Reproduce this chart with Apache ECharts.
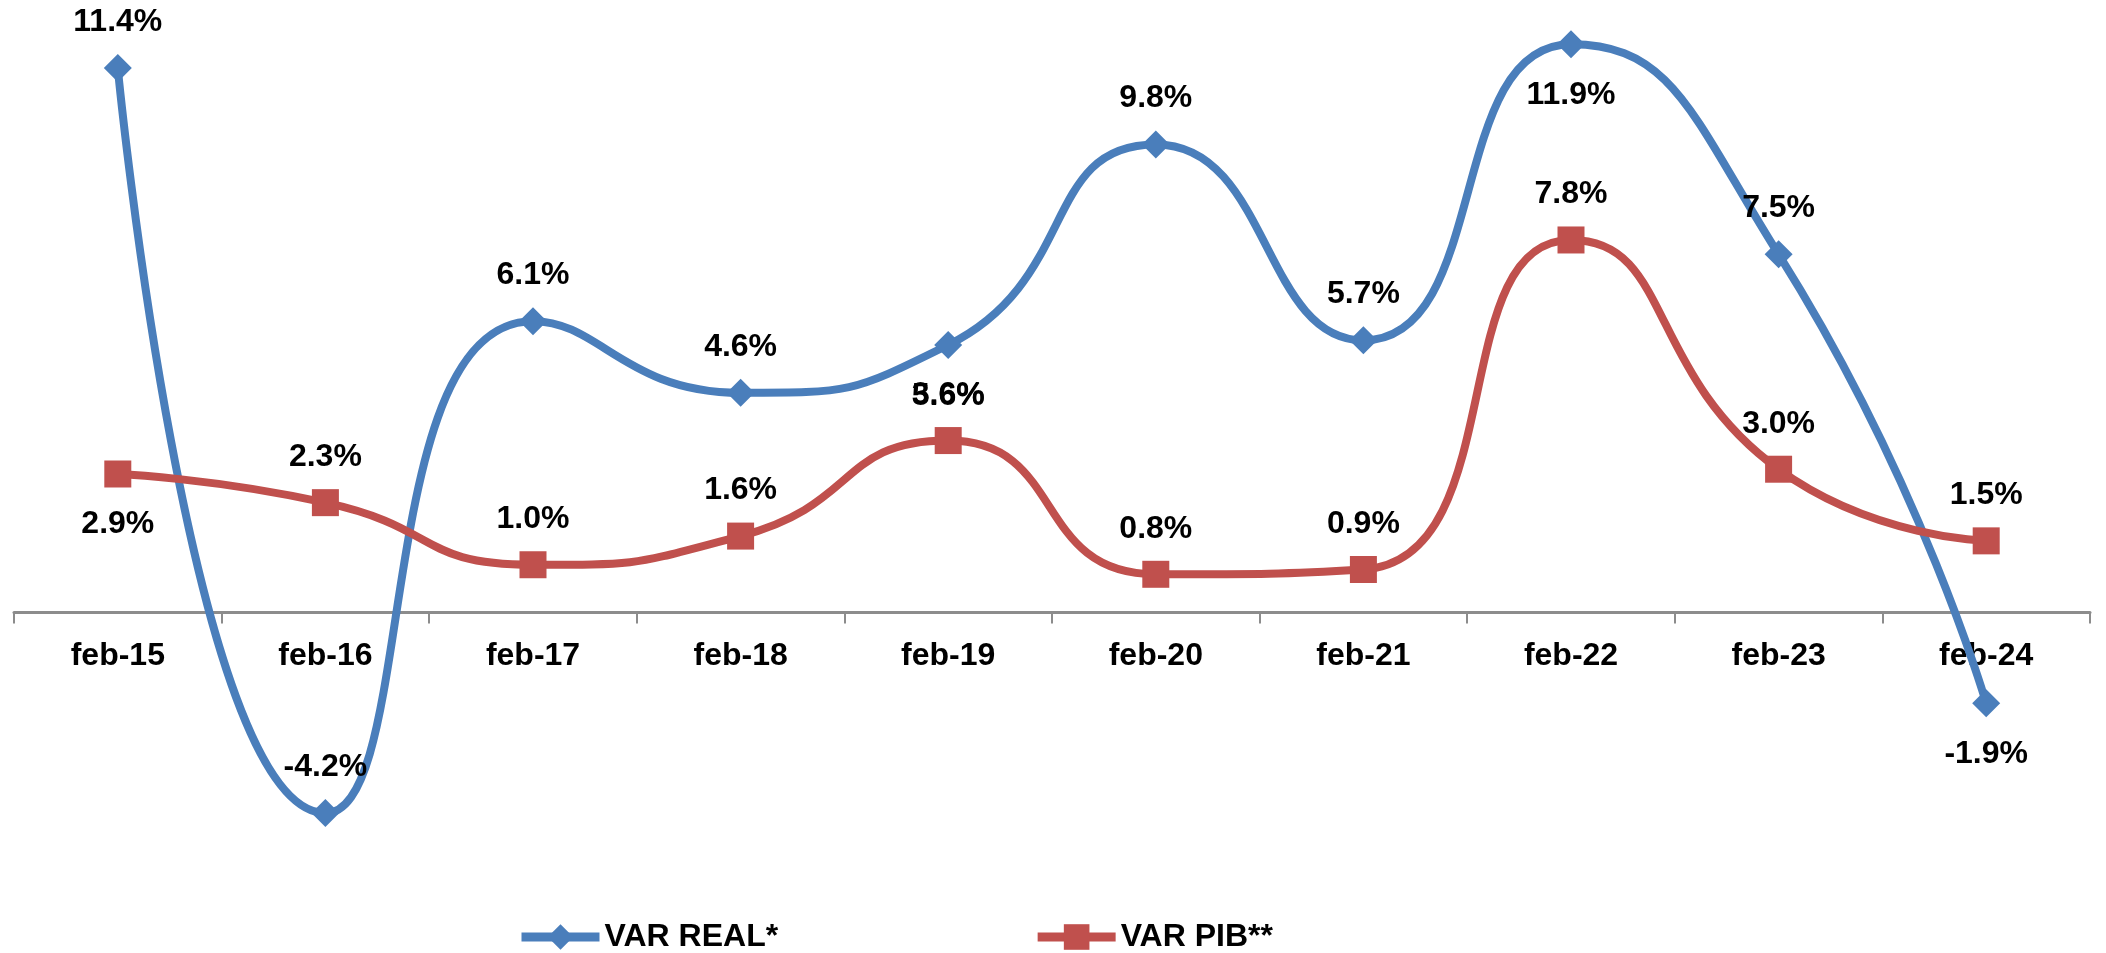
<!DOCTYPE html>
<html>
<head>
<meta charset="utf-8">
<title>VAR REAL / VAR PIB</title>
<script src="https://cdn.jsdelivr.net/npm/echarts@6/dist/echarts.min.js"></script>
<style>
  html, body { margin: 0; padding: 0; background: #fff; }
  #chart { width: 2106px; height: 953px; }
</style>
</head>
<body>
<div id="chart"></div>
<script>
// categorias y valores
const months = ['feb-15', 'feb-16', 'feb-17', 'feb-18', 'feb-19', 'feb-20', 'feb-21', 'feb-22', 'feb-23', 'feb-24']
const varReal = [11.4, -4.2, 6.1, 4.6, 5.6, 9.8, 5.7, 11.9, 7.5, -1.9]
const varPib = [2.9, 2.3, 1.0, 1.6, 3.6, 0.8, 0.9, 7.8, 3.0, 1.5]

// indices cuyas etiquetas van debajo del punto
const realBelow = [4, 7, 9]
const pibBelow = [0]

const font = '"Liberation Sans", Arial, sans-serif'

function withLabels (values, below) {
  return values.map((v, i) => {
    let under = below.indexOf(i) >= 0
    return {
      value: v,
      label: {position: under ? 'bottom' : 'top', distance: under ? 21 : 16}
    }
  })
}

let labelStyle = {
  show: true,
  fontSize: 32,
  fontWeight: 'bold',
  color: '#000',
  fontFamily: font,
  formatter: p => p.value.toFixed(1) + '%'
}

let chart = echarts.init(document.getElementById('chart'))
// el eje x va en el cero: la rejilla termina en 0 y los negativos se dibujan fuera (clip: false)
chart.setOption({
  animation: false,
  textStyle: {fontFamily: font},
  legend: {
    left: 512,
    top: 916,
    itemWidth: 78,
    itemHeight: 32,
    itemGap: 255,
    lineStyle: {width: 9},
    textStyle: {fontSize: 32, fontWeight: 'bold', color: '#000', fontFamily: font, lineHeight: 32}
  },
  grid: {left: 14, right: 16, top: 15.5, bottom: 340.5},
  xAxis: {
    type: 'category',
    data: months,
    boundaryGap: true,
    axisLine: {onZero: false, lineStyle: {color: '#8c8c8c', width: 3}},
    axisTick: {show: true, interval: 0, alignWithLabel: false, inside: false, length: 11, lineStyle: {color: '#8c8c8c', width: 2}},
    axisLabel: {fontSize: 32, fontWeight: 'bold', color: '#000', margin: 28, fontFamily: font}
  },
  yAxis: {
    type: 'value',
    min: 0,
    max: 12.5,
    show: false,
    splitLine: {show: false}
  },
  series: [
    {
      name: 'VAR REAL*',
      type: 'line',
      smooth: 0.55,
      clip: false,
      data: withLabels(varReal, realBelow),
      symbol: 'diamond',
      symbolSize: 28,
      lineStyle: {color: '#4a7ebb', width: 8},
      itemStyle: {color: '#4a7ebb'},
      label: labelStyle
    },
    {
      name: 'VAR PIB**',
      type: 'line',
      smooth: 0.55,
      clip: false,
      data: withLabels(varPib, pibBelow),
      symbol: 'rect',
      symbolSize: 27,
      lineStyle: {color: '#c0504d', width: 8},
      itemStyle: {color: '#c0504d'},
      label: labelStyle
    }
  ]
})
</script>
</body>
</html>
